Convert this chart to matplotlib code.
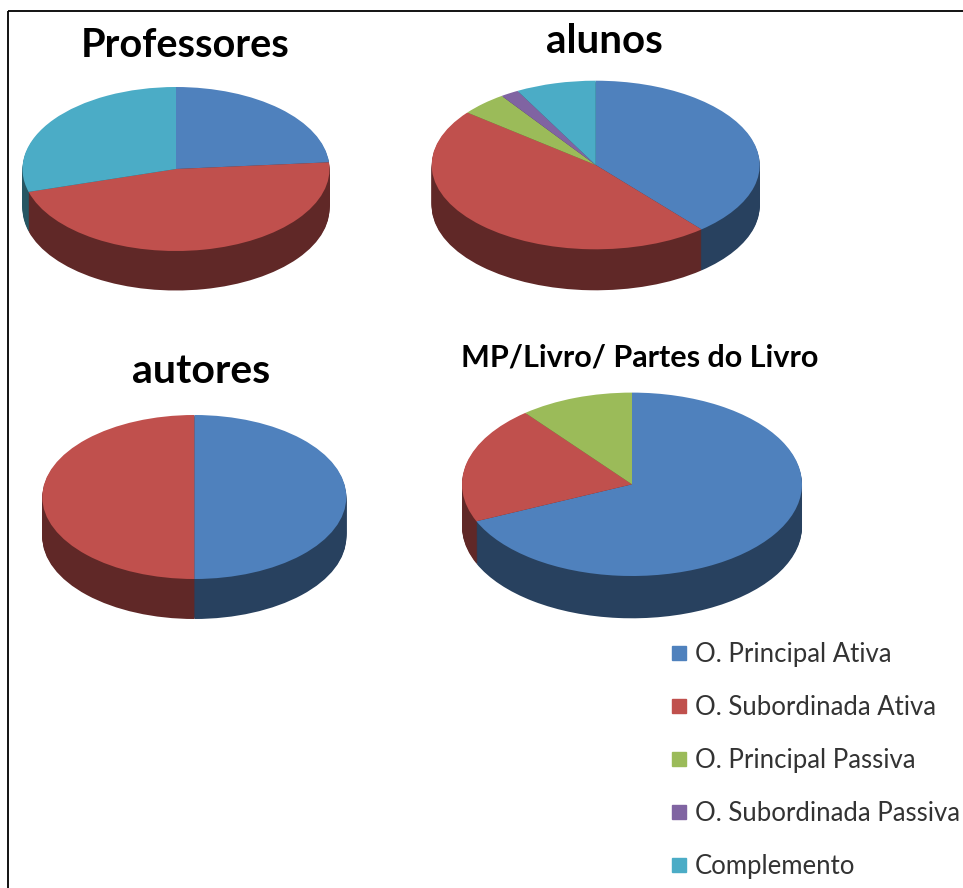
import matplotlib
matplotlib.use("Agg")
import matplotlib.pyplot as plt
from matplotlib.colors import to_rgb
from matplotlib.patches import Rectangle

categories = ["O. Principal Ativa", "O. Subordinada Ativa", "O. Principal Passiva",
              "O. Subordinada Passiva", "Complemento"]
colors = ["#4F81BD", "#C0504D", "#9BBB59", "#8064A2", "#4BACC6"]

titles = ["Professores", "alunos", "autores", "MP/Livro/ Partes do Livro"]
professores = [23.7, 46.8, 0, 0, 29.5]
alunos = [38.8, 46.8, 4.6, 1.8, 7.9]
autores = [50, 50, 0, 0, 0]
mp_livro = [68.4, 20.8, 10.8, 0, 0]

W, H = 963, 888
fig = plt.figure(figsize=(W / 100, H / 100), dpi=100)
bg = fig.add_axes([0, 0, 1, 1])
bg.set_xlim(0, W)
bg.set_ylim(H, 0)
bg.axis('off')
bg.add_patch(Rectangle((8, 11), W + 20, H + 20, fill=False, lw=1.3, ec='black'))


def pie3d(vals, cx, cy, rx, ry, depth):
    # flat pie in an axes with free aspect -> ellipse; stacked dark copies give the side wall
    ax = fig.add_axes([(cx - rx) / W, (H - cy - ry - depth) / H, 2 * rx / W, (2 * ry + depth) / H])
    keep = [(v, c) for v, c in zip(vals, colors) if v > 0]
    v = [k[0] for k in keep]
    top = [k[1] for k in keep]
    side = [tuple(0.5 * x for x in to_rgb(c)) for c in top]
    d = depth / ry
    n = int(depth)
    for i in range(n, 0, -1):
        ax.pie(v, colors=side, startangle=90, counterclock=False, center=(0, -d * i / n))
    ax.pie(v, colors=top, startangle=90, counterclock=False)
    ax.set_aspect('auto')
    ax.set_xlim(-1, 1)
    ax.set_ylim(-1 - d, 1)
    ax.axis('off')


pie3d(professores, 176, 169, 153.5, 82, 39.5)
pie3d(alunos, 595.7, 165, 164, 84.3, 41)
pie3d(autores, 194.3, 497, 152, 82, 40)
pie3d(mp_livro, 632, 484.3, 170, 91.7, 42.3)

tfont = dict(family='Lato', weight='bold', color='black', ha='center', va='baseline')
bg.text(185.3, 56.7, titles[0], fontsize=28.5, **tfont)
bg.text(604.7, 52.7, titles[1], fontsize=29, **tfont)
bg.text(201.5, 383, titles[2], fontsize=29.5, **tfont)
bg.text(640, 366, titles[3], fontsize=22, **tfont)

for i, (lab, c) in enumerate(zip(categories, colors)):
    base = 661.7 + i * 53
    bg.add_patch(Rectangle((672, base - 16), 14, 14, color=c))
    bg.text(695, base, lab, fontsize=18.5, family='Lato', color='#333333',
            ha='left', va='baseline')

fig.savefig("out.png", dpi=100)
